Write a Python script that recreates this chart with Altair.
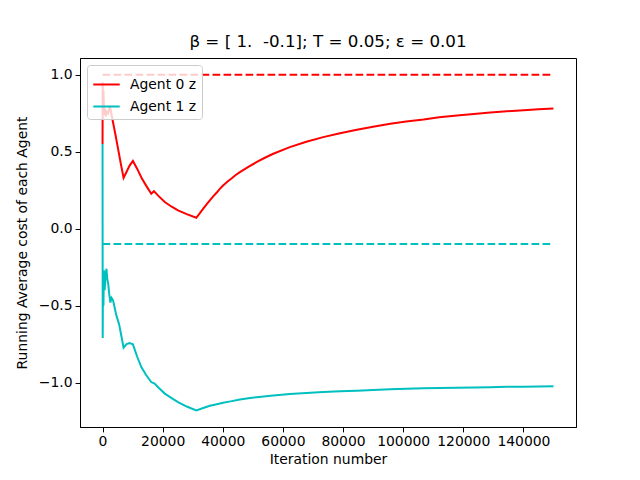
import altair as alt
import pandas as pd

series_names = ["Agent 0 z", "Agent 1 z"]
series_colors = ["#ff0000", "#00bfbf"]

red_x = [0, 50, 150, 300, 500, 800, 1100, 1500, 1900, 2400, 2900, 3500, 4200, 5200, 6000,
         7000, 8000, 9000, 10100, 11500, 13000, 14500, 16200, 17100, 18500, 20700, 23000,
         25100, 28000, 31200, 32500, 33500, 34600, 35700, 36800, 38000, 39000, 40100, 41500,
         43000, 44300, 45700, 48500, 51200, 54000,
         56800, 62300, 67800, 73400, 79000, 84600, 90000, 95700, 101000, 106800, 112000,
         117900, 123500, 129000, 134500, 140100, 145000, 150000]
red_y = [0.55, 0.95, 0.76, 0.90, 0.74, 0.78, 0.73, 0.76, 0.75, 0.80, 0.75, 0.69, 0.62, 0.515, 0.43,
         0.33, 0.37, 0.41, 0.44, 0.39, 0.33, 0.28, 0.227, 0.244, 0.215, 0.173, 0.143,
         0.119, 0.095, 0.071, 0.105, 0.13, 0.158, 0.184, 0.21, 0.235, 0.259, 0.281, 0.305,
         0.328, 0.349, 0.368, 0.402, 0.432, 0.461,
         0.487, 0.53, 0.565, 0.595, 0.62, 0.643, 0.663, 0.682, 0.697, 0.71, 0.724,
         0.736, 0.746, 0.755, 0.763, 0.77, 0.776, 0.781]

cyan_x = [0, 50, 150, 300, 450, 700, 1000, 1300, 1600, 1900, 2200, 2600, 3000, 3500, 4100,
          4600, 5500, 6200, 7000, 8000, 9000, 10100, 11500, 12900, 14500, 16200, 17300, 18500,
          20700, 23000, 25100, 28000, 31200, 33500, 35700, 38000, 40100, 43000, 45700, 48500,
          51200, 56800, 62300, 67800,
          73400, 79000, 84600, 90000, 95700, 101000, 106800, 112000, 117900, 123500, 129000,
          134500, 140100, 145000, 150000]
cyan_y = [0.55, -0.71, -0.30, -0.50, -0.27, -0.40, -0.30, -0.26, -0.33, -0.36, -0.42, -0.48, -0.45, -0.465, -0.52,
          -0.563, -0.62, -0.69, -0.773, -0.75, -0.743, -0.751, -0.83, -0.899, -0.95, -0.996, -1.006, -1.03,
          -1.071, -1.10, -1.126, -1.155, -1.18, -1.165, -1.15, -1.14, -1.13, -1.12, -1.11, -1.101,
          -1.094, -1.083, -1.074, -1.067,
          -1.061, -1.056, -1.052, -1.047, -1.043, -1.040, -1.037, -1.035, -1.033, -1.031, -1.029,
          -1.027, -1.026, -1.025, -1.024]

target_values = [1.0, -0.1]
target_x_start = [0, 0]
target_x_end = [150000, 150000]

x_ticks = [0, 20000, 40000, 60000, 80000, 100000, 120000, 140000]
y_ticks = [-1.0, -0.5, 0.0, 0.5, 1.0]

df_main = pd.DataFrame({
    "x": red_x + cyan_x,
    "y": red_y + cyan_y,
    "series": [series_names[0]] * len(red_x) + [series_names[1]] * len(cyan_x),
    "idx": list(range(len(red_x))) + list(range(len(cyan_x))),
})
df_ref = pd.DataFrame({
    "x": target_x_start,
    "x2": target_x_end,
    "y": target_values,
    "c": series_colors,
})

FONT = "DejaVu Sans"
x_scale = alt.Scale(domain=[-7500, 157500], nice=False, zero=False)
y_scale = alt.Scale(domain=[-1.288, 1.109], nice=False, zero=False)

lines = alt.Chart(df_main).mark_line(strokeWidth=2.0).encode(
    x=alt.X("x:Q", scale=x_scale,
            axis=alt.Axis(title="Iteration number", values=x_ticks, format="d")),
    y=alt.Y("y:Q", scale=y_scale,
            axis=alt.Axis(title="Running Average cost of each Agent", values=y_ticks, format=".1f")),
    color=alt.Color("series:N",
                    scale=alt.Scale(domain=series_names, range=series_colors),
                    legend=alt.Legend(title=None, orient="top-left", offset=7,
                                      symbolType="stroke", symbolSize=700,
                                      symbolStrokeWidth=2, labelFontSize=13.9,
                                      labelFont=FONT, labelColor="black",
                                      strokeColor="#cccccc", fillColor="rgba(255,255,255,0.8)",
                                      cornerRadius=3, padding=5, rowPadding=0,
                                      labelOffset=9)),
    detail="series:N",
    order="idx:Q",
)

dashed = alt.Chart(df_ref).mark_rule(strokeWidth=2.0, strokeDash=[7.7, 3.3]).encode(
    x=alt.X("x:Q", scale=x_scale),
    x2="x2:Q",
    y=alt.Y("y:Q", scale=y_scale),
    color=alt.Color("c:N", scale=None),
)

chart = alt.layer(lines, dashed).properties(
    width=496,
    height=369,
    title=alt.TitleParams("β = [ 1. \u00a0-0.1]; T = 0.05; ε = 0.01", font=FONT,
                          fontSize=16.7, fontWeight="normal", color="black",
                          anchor="middle", offset=7),
    padding={"left": 72, "top": 50, "right": 56, "bottom": 40},
    autosize=alt.AutoSizeParams(type="none"),
).configure_view(
    stroke="black", strokeWidth=1
).configure_axis(
    grid=False, domainColor="black", tickColor="black", labelColor="black",
    titleColor="black", labelFont=FONT, titleFont=FONT, labelFontSize=13.9,
    titleFontSize=13.9, titleFontWeight="normal", tickSize=4.9, labelPadding=3,
).configure_axisX(
    titlePadding=4,
).configure_axisY(
    titlePadding=9,
)

chart.save("out.html", embed_options={"renderer": "svg", "actions": False})
